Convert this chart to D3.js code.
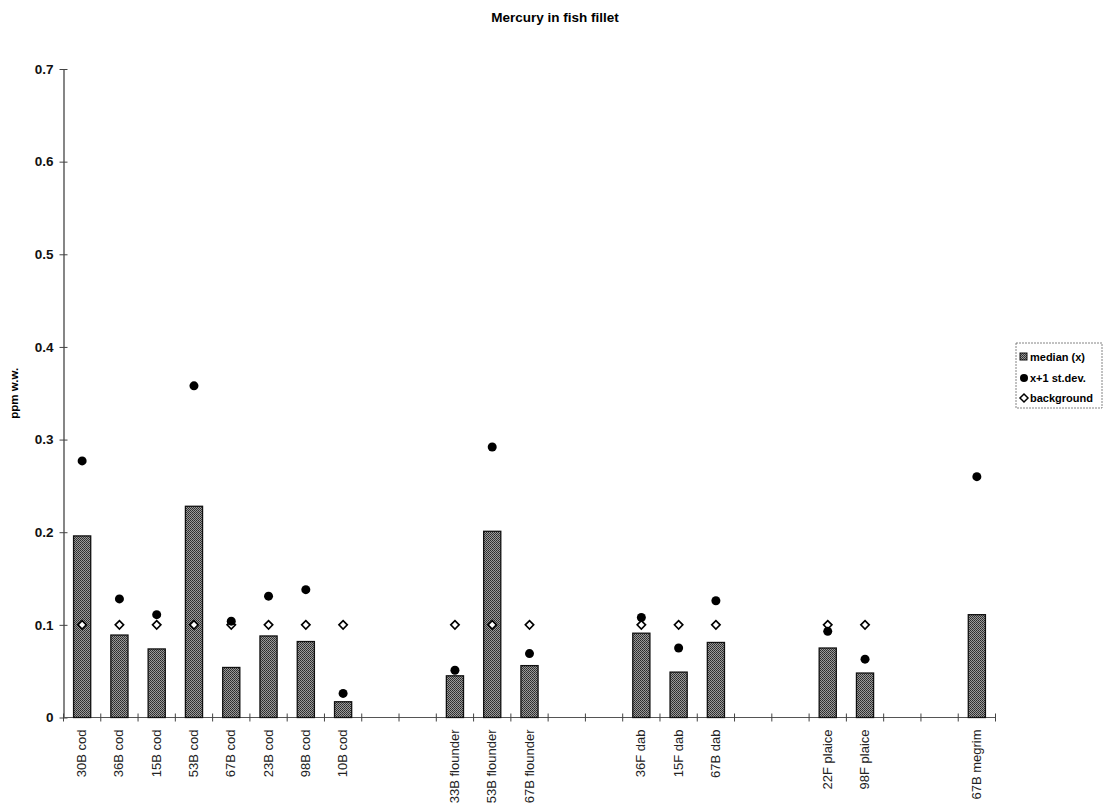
<!DOCTYPE html>
<html><head><meta charset="utf-8">
<script src="https://cdn.jsdelivr.net/npm/d3@7"></script>
<style>body{margin:0;background:#fff}</style>
</head><body>
<svg id="c" width="1111" height="805"></svg>
<script>
const categories = ["30B cod","36B cod","15B cod","53B cod","67B cod","23B cod","98B cod","10B cod","","","33B flounder","53B flounder","67B flounder","","","36F dab","15F dab","67B dab","","","22F plaice","98F plaice","","","67B megrim"];
const median = [0.196,0.089,0.074,0.228,0.054,0.088,0.082,0.017,null,null,0.045,0.201,0.056,null,null,0.091,0.049,0.081,null,null,0.075,0.048,null,null,0.111];
const sdPlus = [0.277,0.128,0.111,0.358,0.104,0.131,0.138,0.026,null,null,0.051,0.292,0.069,null,null,0.108,0.075,0.126,null,null,0.093,0.063,null,null,0.260];
const background = [0.1,0.1,0.1,0.1,0.1,0.1,0.1,0.1,null,null,0.1,0.1,0.1,null,null,0.1,0.1,0.1,null,null,0.1,0.1,null,null,null];
const yTicks = [0,0.1,0.2,0.3,0.4,0.5,0.6,0.7];
const legendLabels = ["median (x)","x+1 st.dev.","background"];

const svg = d3.select("#c");
const defs = svg.append("defs");
const pat = defs.append("pattern").attr("id","stip").attr("width",2).attr("height",2).attr("patternUnits","userSpaceOnUse");
pat.append("rect").attr("width",2).attr("height",2).attr("fill","#9a9a9a");
pat.append("rect").attr("width",1).attr("height",1).attr("fill","#2a2a2a");
pat.append("rect").attr("x",1).attr("y",1).attr("width",1).attr("height",1).attr("fill","#3a3a3a");

const x0 = 63.5, x1 = 995.5, yTop = 69, yBot = 717.5;
const x = d3.scaleBand().domain(d3.range(categories.length)).range([x0,x1]).padding(0);
const y = d3.scaleLinear().domain([0,0.7]).range([yBot,yTop]);
const bw = x.bandwidth()*0.46;
const cx = i => x(i)+x.bandwidth()/2;

// title
svg.append("text").attr("x",555).attr("y",22).attr("text-anchor","middle")
  .attr("font-family","Liberation Sans, Arial, sans-serif").attr("font-weight","bold").attr("font-size",13.5)
  .text("Mercury in fish fillet");

// y axis
const yAxis = d3.axisLeft(y).tickValues(yTicks).tickSize(0).tickFormat(d=> d===0 ? "0" : d3.format(".1f")(d));
const gy = svg.append("g").attr("transform",`translate(${x0},0)`).call(yAxis);
gy.select(".domain").attr("stroke","#444").attr("stroke-width",1.3);
gy.selectAll(".tick text").attr("x",-10).attr("font-family","Liberation Sans, Arial, sans-serif").attr("font-weight","bold").attr("font-size",13.5).attr("fill","#111");
gy.selectAll(".tick").append("line").attr("x1",-4).attr("x2",4).attr("stroke","#444");

svg.append("text").attr("transform",`translate(18,${(yTop+yBot)/2}) rotate(-90)`).attr("text-anchor","middle")
  .attr("font-family","Liberation Sans, Arial, sans-serif").attr("font-weight","bold").attr("font-size",11.5)
  .text("ppm w.w.");

// x axis
const gx = svg.append("g").attr("transform",`translate(0,${yBot})`);
gx.append("line").attr("x1",x0).attr("x2",x1).attr("stroke","#555").attr("stroke-width",1.2);
const bounds = d3.range(categories.length+1).map(i => i<categories.length ? x(i) : x1);
gx.selectAll("line.tk").data(bounds).join("line").attr("class","tk")
  .attr("x1",d=>d).attr("x2",d=>d).attr("y1",-4).attr("y2",4).attr("stroke","#444");
gx.selectAll("text").data(categories).join("text")
  .attr("transform",(d,i)=>`translate(${cx(i)+4},12) rotate(-90)`)
  .attr("text-anchor","end")
  .attr("font-family","Liberation Sans Narrow, Arial Narrow, sans-serif").attr("font-size",13).attr("fill","#222")
  .text(d=>d);

// bars
const idx = d3.range(categories.length);
svg.append("g").selectAll("rect").data(idx.filter(i=>median[i]!=null)).join("rect")
  .attr("x",i=>cx(i)-bw/2).attr("width",bw)
  .attr("y",i=>y(median[i])).attr("height",i=>y(0)-y(median[i]))
  .attr("fill","url(#stip)").attr("stroke","#111").attr("stroke-width",1.3);

// background diamonds
const dsz = 4.2;
svg.append("g").selectAll("path").data(idx.filter(i=>background[i]!=null)).join("path")
  .attr("d",i=>{const X=cx(i),Y=y(background[i]);return `M${X},${Y-dsz}L${X+dsz},${Y}L${X},${Y+dsz}L${X-dsz},${Y}Z`;})
  .attr("fill","#fff").attr("stroke","#000").attr("stroke-width",1.6);

// sd dots
svg.append("g").selectAll("circle").data(idx.filter(i=>sdPlus[i]!=null)).join("circle")
  .attr("cx",i=>cx(i)).attr("cy",i=>y(sdPlus[i])).attr("r",4.5).attr("fill","#000");

// legend
const lg = svg.append("g").attr("transform","translate(1016,343)");
lg.append("rect").attr("width",86).attr("height",65).attr("fill","#fff").attr("stroke","#666").attr("stroke-width",0.8).attr("stroke-dasharray","2,1");
const rowY = [14,35,55];
lg.append("rect").attr("x",4).attr("y",rowY[0]-4).attr("width",7).attr("height",7).attr("fill","url(#stip)").attr("stroke","#111");
lg.append("circle").attr("cx",8).attr("cy",rowY[1]).attr("r",4).attr("fill","#000");
lg.append("path").attr("d",`M8,${rowY[2]-4}L12,${rowY[2]}L8,${rowY[2]+4}L4,${rowY[2]}Z`).attr("fill","#fff").attr("stroke","#000").attr("stroke-width",1.5);
lg.selectAll("text").data(legendLabels).join("text")
  .attr("x",14).attr("y",(d,i)=>rowY[i]+4)
  .attr("font-family","Liberation Sans, Arial, sans-serif").attr("font-weight","bold").attr("font-size",11)
  .text(d=>d);
</script>
</body></html>
